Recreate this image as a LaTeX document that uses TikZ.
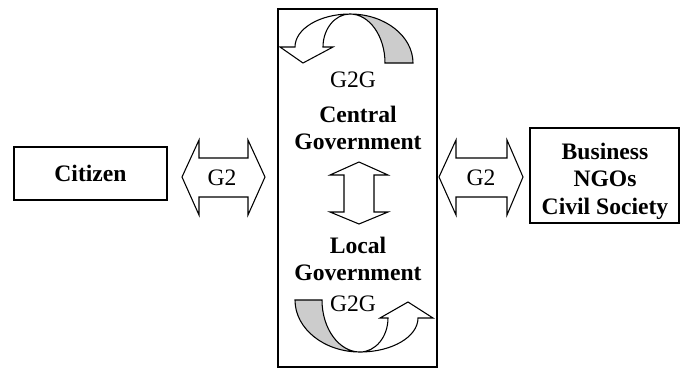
\documentclass[tikz,border=0pt]{standalone}
\usepackage{fontspec}
\setmainfont{Liberation Serif}
\usetikzlibrary{calc}

\begin{document}
\begin{tikzpicture}[x=0.75pt,y=-0.75pt,
  every node/.style={font=\fontsize{17.7}{20.6}\selectfont},
  box/.style={draw,line width=1.1pt,inner sep=0pt},
  title/.style={font=\fontsize{17.7}{20.6}\selectfont\bfseries,align=center,inner sep=0pt},
  blockarrow/.style={draw,line width=0.8pt,fill=white,line join=miter}]
  \useasboundingbox (0,0) rectangle (687,369);
  % government column
  \draw[line width=1.1pt] (278,9) rectangle (437,367);
  % curved arrow at the top
  \filldraw[line width=0.8pt,fill=gray!40] (350,14) .. controls (384.8,14) and (413,36) .. (413,63)
    -- (385,63) .. controls (385,36) and (369.3,14) .. (350,14) -- cycle;
  \draw[blockarrow] (350,14) .. controls (319.6,14) and (295,28.8) .. (295,47)
    -- (280,47) -- (303,63) -- (333,47) -- (323,47)
    .. controls (323,28.8) and (335.1,14) .. (350,14) -- cycle;
  % curved arrow at the bottom
  \filldraw[line width=0.8pt,fill=gray!40] (295,300) .. controls (295,328.7) and (324.1,352) .. (360,352)
    .. controls (339,352) and (322,328.7) .. (322,300) -- cycle;
  \draw[blockarrow] (360,352) .. controls (392,352) and (418,336.8) .. (418,318)
    -- (433,318) -- (408,302) -- (380,318) -- (388,318)
    .. controls (388,336.8) and (375.5,352) .. (360,352) -- cycle;
  \node (g2gtop) at (353,80) {G2G};
  \node (g2gbottom) at (353,304) {G2G};
  \node[title] (central) at (358,128) {Central\\Government};
  \node[title] (local) at (358,259) {Local\\Government};
  % up and down arrow
  \draw[blockarrow] (359,162) -- (388,175) -- (374,175) -- (374,212) -- (388,212) -- (359,224)
    -- (330,212) -- (344,212) -- (344,175) -- (330,175) -- cycle;
  % outer boxes
  \node[box,minimum width=114.75pt,minimum height=39.75pt,font=\fontsize{17.7}{20.6}\selectfont\bfseries]
    (citizen) at (90.5,173.5) {Citizen};
  \node[box,minimum width=111.75pt,minimum height=71.25pt] (business) at (604.5,175.5) {};
  \node[title] (businesstext) at (605,181) {Business\\NGOs\\Civil Society};
  % G2 arrows
  \draw[blockarrow] (182,177) -- (199,140) -- (199,158) -- (248,158) -- (248,140) -- (265,177)
    -- (248,215) -- (248,197) -- (199,197) -- (199,215) -- cycle;
  \node (g2left) at (222,178) {G2};
  \draw[blockarrow] (439,177) -- (456,140) -- (456,158) -- (507,158) -- (507,140) -- (523,177)
    -- (507,215) -- (507,197) -- (456,197) -- (456,215) -- cycle;
  \node (g2right) at (481,178) {G2};
\end{tikzpicture}
\end{document}
